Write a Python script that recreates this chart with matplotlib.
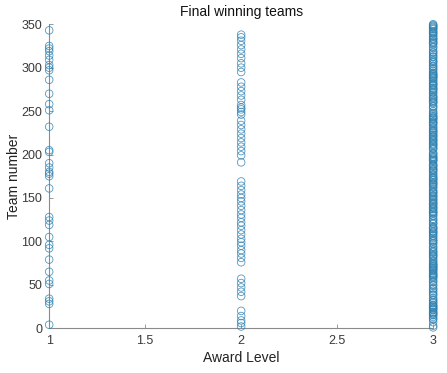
import matplotlib
matplotlib.use("Agg")
import matplotlib.pyplot as plt

level1_teams = [4, 28, 31, 34, 51, 55, 65, 79, 92, 96, 105, 119, 124, 128, 161, 175, 178, 180,
                185, 190, 203, 205, 232, 251, 258, 270, 286, 297, 300, 303, 309, 314, 319, 322,
                325, 343]
level2_teams = [2, 6, 9, 14, 20, 37, 42, 47, 52, 57, 76, 81, 86, 90, 95, 99, 103, 108, 113, 118,
                122, 127, 131, 136, 141, 146, 150, 154, 159, 164, 169, 191, 199, 204, 209, 214,
                219, 224, 229, 234, 239, 246, 249, 252, 254, 257, 263, 268, 273, 278, 283, 295,
                300, 305, 311, 316, 321, 326, 331, 335, 338]
level3_teams = [1, 3, 7, 10, 11, 13, 15, 16, 17, 18, 19, 21, 22, 23, 24, 25, 26, 27, 29, 30, 32,
                33, 35, 38, 39, 41, 43, 45, 46, 49, 50, 53, 54, 56, 58, 59, 60, 61, 62, 63, 64,
                66, 67, 68, 69, 70, 71, 72, 73, 74, 75, 77, 78, 80, 82, 83, 84, 85, 87, 88, 89,
                91, 93, 94, 97, 98, 100, 101, 102, 104, 106, 107, 109, 110, 111, 112, 114, 115,
                116, 117, 120, 121, 123, 125, 126, 129, 130, 132, 133, 134, 135, 137, 138, 139,
                140, 142, 143, 144, 145, 147, 148, 149, 151, 152, 153, 155, 156, 157, 158, 160,
                162, 163, 165, 166, 167, 168, 170, 171, 172, 173, 174, 176, 177, 179, 181, 182,
                183, 184, 186, 187, 188, 189, 192, 193, 194, 195, 196, 197, 198, 200, 201, 202,
                206, 207, 208, 210, 211, 212, 213, 215, 216, 217, 218, 220, 221, 222, 223, 225,
                226, 227, 228, 230, 231, 233, 235, 236, 237, 238, 240, 241, 242, 243, 244, 245,
                247, 248, 250, 253, 255, 256, 259, 260, 261, 262, 264, 265, 266, 267, 269, 271,
                272, 274, 275, 276, 277, 279, 280, 281, 282, 284, 285, 287, 288, 289, 290, 291,
                292, 293, 294, 296, 298, 299, 301, 302, 304, 306, 307, 308, 310, 312, 313, 315,
                317, 318, 320, 323, 324, 327, 328, 329, 330, 332, 333, 334, 336, 337, 339, 340,
                341, 342, 344, 345, 346, 347, 348, 349, 350]
award_levels = [1, 2, 3]
x_ticks = [1, 1.5, 2, 2.5, 3]
x_tick_labels = ["1", "1.5", "2", "2.5", "3"]
y_ticks = [0, 50, 100, 150, 200, 250, 300, 350]

plt.rcParams['font.family'] = ['Liberation Sans', 'DejaVu Sans']

fig = plt.figure(figsize=(4.47, 3.73), dpi=100)
ax = fig.add_axes([0.11, 0.12, 0.859, 0.815])

color = '#2a7fb0'
for lvl, teams in zip(award_levels, [level1_teams, level2_teams, level3_teams]):
    ax.scatter([lvl] * len(teams), teams, s=30, facecolors='none', edgecolors=color,
               linewidths=0.6, alpha=0.8, zorder=3, clip_on=False)

ax.set_xlim(1, 3)
ax.set_ylim(0, 350)
ax.set_xticks(x_ticks)
ax.set_xticklabels(x_tick_labels)
ax.set_yticks(y_ticks)

for side in ['top', 'right']:
    ax.spines[side].set_visible(False)
for side in ['left', 'bottom']:
    ax.spines[side].set_color('#8a8a8a')
    ax.spines[side].set_linewidth(0.8)
ax.tick_params(direction='in', length=3, width=0.6, colors='#8a8a8a',
               labelcolor='#3a3a3a', labelsize=9, pad=5)

ax.set_xlabel('Award Level', fontsize=10, color='#222222', labelpad=3)
ax.set_ylabel('Team number', fontsize=10, color='#222222', labelpad=0)
ax.set_title('Final winning teams', fontsize=10, color='#111111', pad=6)

fig.savefig('out.png', dpi=100)
